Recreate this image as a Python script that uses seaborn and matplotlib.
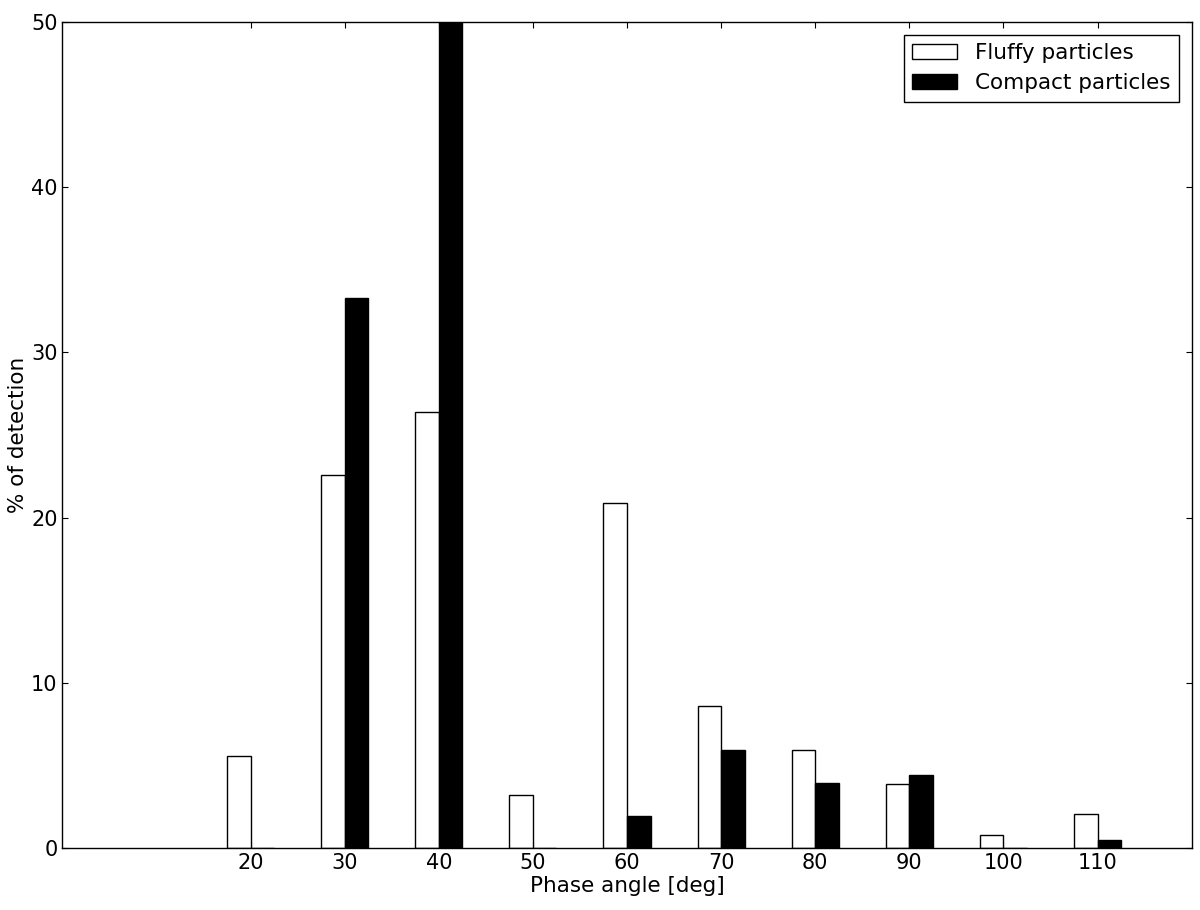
import numpy as np
import pandas as pd
import matplotlib
matplotlib.use("Agg")
import matplotlib.pyplot as plt
import seaborn as sns

# phase angle bins and detection percentages
angles = [20, 30, 40, 50, 60, 70, 80, 90, 100, 110]
fluffy = [5.55, 22.6, 26.4, 3.2, 20.9, 8.6, 5.92, 3.88, 0.79, 2.06]
compact = [0.0, 33.3, 50.0, 0.0, 1.95, 5.95, 3.95, 4.43, 0.0, 0.5]
series_names = ["Fluffy particles", "Compact particles"]
series_colors = ["white", "black"]

df = pd.DataFrame({
    "angle": angles * 2,
    "pct": fluffy + compact,
    "kind": [series_names[0]] * len(angles) + [series_names[1]] * len(angles),
})

sns.set_style("white")
plt.rcParams.update({
    "font.family": ["DejaVu Sans"],
    "text.color": "black",
    "axes.labelcolor": "black",
    "axes.edgecolor": "black",
    "axes.linewidth": 1.0,
    "xtick.direction": "in",
    "ytick.direction": "in",
    "xtick.top": True,
    "ytick.right": True,
    "xtick.bottom": True,
    "ytick.left": True,
    "xtick.major.size": 4,
    "ytick.major.size": 4,
    "xtick.color": "black",
    "ytick.color": "black",
    "xtick.labelsize": 15,
    "ytick.labelsize": 15,
    "axes.labelsize": 15.5,
    "legend.fontsize": 15.5,
})

fig = plt.figure(figsize=(12, 9.1), dpi=100)
ax = fig.add_axes([0.052, 0.068, 0.941, 0.908])

sns.barplot(data=df, x="angle", y="pct", hue="kind", hue_order=series_names,
            palette=series_colors, native_scale=True, width=0.5, dodge=True,
            errorbar=None, edgecolor="black", linewidth=1.0, saturation=1, ax=ax)

ax.set_xlim(0, 120)
ax.set_ylim(0, 50)
ax.set_xticks(angles)
ax.set_xticklabels([str(a) for a in angles])
ax.set_yticks([0, 10, 20, 30, 40, 50])
ax.set_xlabel("Phase angle [deg]", labelpad=2)
ax.set_ylabel("% of detection", labelpad=2)

sns.move_legend(ax, "upper right", title=None, frameon=True, fancybox=False,
                edgecolor="black", framealpha=1, borderaxespad=0.6,
                handlelength=2.1, handletextpad=0.8, labelspacing=0.45)
ax.get_legend().get_frame().set_linewidth(1.0)

fig.savefig("out.png", dpi=100)
